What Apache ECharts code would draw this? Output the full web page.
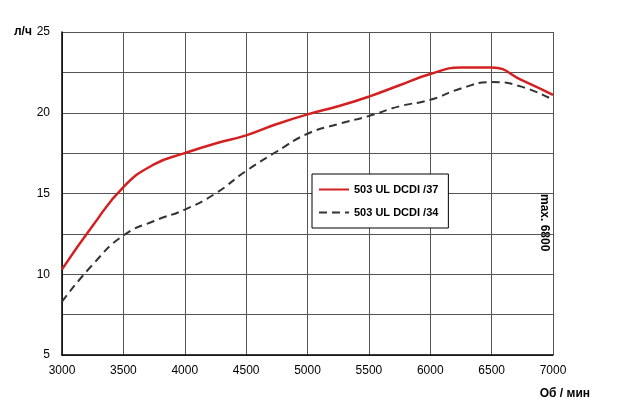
<!DOCTYPE html>
<html><head><meta charset="utf-8">
<script src="https://cdn.jsdelivr.net/npm/echarts@6/dist/echarts.min.js"></script>
<style>body{margin:0;background:#fff}#c{width:620px;height:409px}</style>
</head><body><div id="c"></div>
<script>
var rpm = [3000,3250,3500,3750,4000,4250,4500,4750,5000,5250,5500,5750,6000,6250,6500,6750,7000];
var fuel37 = [10.3,13.0,15.4,16.8,17.5,18.1,18.6,19.3,19.9,20.4,21.0,21.7,22.4,22.8,22.8,22.0,21.1];
var fuel34 = [8.3,10.6,12.4,13.3,14.0,15.0,16.4,17.6,18.7,19.3,19.8,20.4,20.8,21.5,21.9,21.6,20.8];
var name37 = '503 UL DCDI /37';
var name34 = '503 UL DCDI /34';

function pairs(v){ return rpm.map(function(x,i){ return [x, v[i]]; }); }

var chart = echarts.init(document.getElementById('c'));
chart.setOption({
	animation: false,
	grid: { left: 62, right: 67, top: 32, bottom: 54 },
	textStyle: { fontFamily: 'Liberation Sans' },
	xAxis: {
		type: 'value', min: 3000, max: 7000, interval: 500,
		axisLine: { lineStyle: { color: '#000', width: 1.5 } },
		axisTick: { show: false },
		axisLabel: { color: '#000', fontSize: 12, margin: 10, formatter: function(v){ return String(v); } },
		splitLine: { lineStyle: { color: '#555', width: 1 } }
	},
	yAxis: {
		type: 'value', min: 5, max: 25, interval: 2.5,
		axisLine: { show: true, lineStyle: { color: '#000', width: 1.5 } },
		axisTick: { show: false },
		axisLabel: { color: '#000', fontSize: 12, margin: 12,
			formatter: function(v){ return v % 5 === 0 ? String(v) : ''; } },
		splitLine: { lineStyle: { color: '#555', width: 1 } }
	},
	legend: {
		left: 312, top: 174, orient: 'vertical', itemGap: 12,
		itemWidth: 30, itemHeight: 2,
		backgroundColor: '#fff', borderColor: '#000', borderWidth: 1,
		padding: [10, 10, 10, 6],
		textStyle: { color: '#000', fontSize: 11, fontWeight: 'bold' },
		data: [name37, name34]
	},
	graphic: [
		{ type: 'text', left: 14, top: 26, style: { text: 'л/ч', fontSize: 12, fontWeight: 'bold', fill: '#000' } },
		{ type: 'text', right: 30, top: 388, style: { text: 'Об / мин', fontSize: 12, fontWeight: 'bold', fill: '#000' } },
		{ type: 'text', x: 550, y: 194, rotation: -Math.PI / 2, style: { text: 'max. 6800', fontSize: 12, fontWeight: 'bold', fill: '#000' } }
	],
	series: [
		{ name: name37, type: 'line', smooth: true, symbol: 'none', data: pairs(fuel37),
		  lineStyle: { color: '#d42020', width: 2.5 }, itemStyle: { color: '#d42020' } },
		{ name: name34, type: 'line', smooth: true, symbol: 'none', data: pairs(fuel34),
		  lineStyle: { color: '#333', width: 2, type: [8, 5] }, itemStyle: { color: '#333' } }
	]
});
</script></body></html>
